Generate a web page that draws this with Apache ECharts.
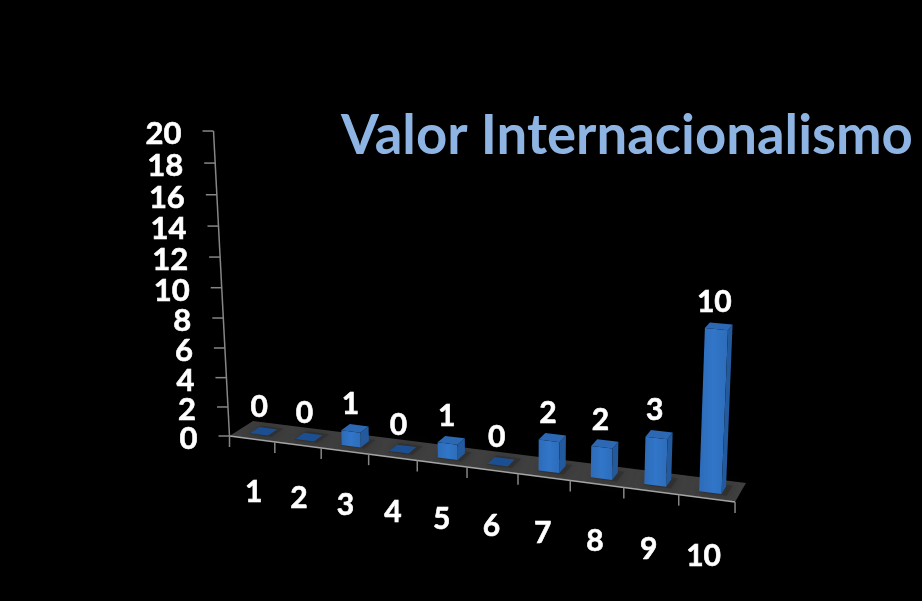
<!DOCTYPE html>
<html>
<head>
<meta charset="utf-8">
<title>Valor Internacionalismo</title>
<style>
html, body { margin: 0; padding: 0; background: #000; }
#chart { width: 922px; height: 601px; }
</style>
<script src="https://cdn.jsdelivr.net/npm/echarts@6/dist/echarts.min.js"></script>
</head>
<body>
<div id="chart"></div>
<script>
var titleText = 'Valor Internacionalismo';
var categories = ['1', '2', '3', '4', '5', '6', '7', '8', '9', '10'];
var values = [0, 0, 1, 0, 1, 0, 2, 2, 3, 10];
var yTicks = [0, 2, 4, 6, 8, 10, 12, 14, 16, 18, 20];

var FONT = 'Lato, "Open Sans", sans-serif';
var gridBox = { left: 229.5, top: 131, width: 505.5, height: 305 };
var yMax = 20;

// perspective of the 3d box: t = category position, v = value, z = depth (0 front, 1 back)
function project(t, v, z) {
    var w = 1 - 0.01138 * t - 0.00268 * v + 0.028 * z;
    return [
        (42.19 * t - 1.372 * v + 30.58 * z + 229.5) / w,
        (0.887 * t - 15.6 * v - 3.2 * z + 436) / w
    ];
}

// grid pixel from the axes -> position in the box
function toBox(pt) {
    return {
        t: (pt[0] - gridBox.left) / gridBox.width * categories.length,
        v: (gridBox.top + gridBox.height - pt[1]) / gridBox.height * yMax
    };
}

function poly(points, fill) {
    return { type: 'polygon', shape: { points: points }, style: { fill: fill }, silent: true };
}

function seg(a, b, color, width) {
    return {
        type: 'line',
        shape: { x1: a[0], y1: a[1], x2: b[0], y2: b[1] },
        style: { stroke: color, lineWidth: width },
        silent: true
    };
}

function label(text, x, y, size, align) {
    return {
        type: 'text',
        silent: true,
        style: {
            text: text, x: x, y: y, fill: '#fff',
            stroke: '#fff', lineWidth: 0.6,
            font: 'bold ' + size + 'px ' + FONT,
            align: align || 'center', verticalAlign: 'middle'
        }
    };
}

function renderFloor(params, api) {
    var n = categories.length;
    return {
        type: 'group',
        children: [
            poly([project(0, 0, 0), project(n, 0, 0), project(n, 0, 1), project(0, 0, 1)], '#3e3e3e'),
            seg(project(0, 0, 0), project(n, 0, 0), '#a6a6a6', 1.5),
            seg(project(0, yMax, 0), project(0, 0, 0), '#868686', 1.5)
        ]
    };
}

function renderYTick(params, api) {
    var b = toBox(api.coord([0, api.value(1)]));
    var p = project(0, b.v, 0);
    return {
        type: 'group',
        children: [
            seg([p[0] - 11, p[1]], p, '#868686', 1.5),
            label(String(api.value(1)), p[0] - 32, p[1] + 3, 31, 'right')
        ]
    };
}

function renderXTick(params, api) {
    var idx = api.value(0);
    var b = toBox(api.coord([idx, 0]));
    var left = project(b.t - 0.5, 0, 0);
    var children = [seg(left, [left[0], left[1] + 11], '#868686', 1.5)];
    var l = project(b.t, -3.7, 0);
    children.push(label(categories[idx], l[0] - 1, l[1], 30));
    if (idx === categories.length - 1) {
        var right = project(b.t + 0.5, 0, 0);
        children.push(seg(right, [right[0], right[1] + 11], '#868686', 1.5));
    }
    return { type: 'group', children: children };
}

function renderBar(params, api) {
    var b = toBox(api.coord([api.value(0), api.value(1)]));
    var t0 = b.t - 0.2, t1 = b.t + 0.2, z0 = 0.3, z1 = 0.7, v = b.v;
    var children = [];
    // soft shadow on the floor
    children.push({
        type: 'polygon',
        silent: true,
        shape: { points: [project(t0, 0, 0.25), project(t1 + 0.1, 0, 0.25), project(t1 + 0.1, 0, 0.8), project(t0, 0, 0.8)] },
        style: { fill: 'rgba(40,40,40,0.45)', shadowBlur: 8, shadowColor: 'rgba(30,30,30,0.8)' }
    });
    if (v > 0) {
        children.push(poly([project(t0, 0, z0), project(t1, 0, z0), project(t1, v, z0), project(t0, v, z0)], {
            type: 'linear', x: 0, y: 0, x2: 1, y2: 0,
            colorStops: [
                { offset: 0, color: '#2d6bb8' },
                { offset: 0.5, color: '#3176c9' },
                { offset: 1, color: '#2d6cba' }
            ]
        }));
        children.push(poly([project(t1, 0, z0), project(t1, 0, z1), project(t1, v, z1), project(t1, v, z0)], '#235a9e'));
    }
    children.push(poly([project(t0, v, z0), project(t1, v, z0), project(t1, v, z1), project(t0, v, z1)], v > 0 ? '#2c68b3' : '#1c4f91'));
    var top = project(b.t, v, 0.5);
    children.push(label(String(api.value(1)), top[0] - 4.5, top[1] - 24, 30));
    return { type: 'group', children: children };
}

var chart = echarts.init(document.getElementById('chart'), null, { renderer: 'canvas' });
chart.setOption({
    animation: false,
    backgroundColor: '#000',
    title: {
        text: titleText,
        left: 341,
        top: 109,
        padding: 0,
        textStyle: { color: '#8db4e2', fontFamily: FONT, fontWeight: 'bold', fontSize: 54.5 }
    },
    grid: gridBox,
    xAxis: { type: 'category', data: categories, show: false },
    yAxis: { type: 'value', min: 0, max: yMax, interval: 2, show: false },
    series: [
        { name: 'floor', type: 'custom', silent: true, renderItem: renderFloor, data: [[0, 0]], z: 1 },
        {
            name: 'yTicks', type: 'custom', silent: true, renderItem: renderYTick, z: 2,
            data: yTicks.map(function (v) { return [0, v]; })
        },
        {
            name: 'xTicks', type: 'custom', silent: true, renderItem: renderXTick, z: 2,
            data: categories.map(function (c, i) { return [i, 0]; })
        },
        {
            name: 'Valor', type: 'custom', silent: true, renderItem: renderBar, z: 3,
            data: values.map(function (v, i) { return [i, v]; })
        }
    ]
});
</script>
</body>
</html>
